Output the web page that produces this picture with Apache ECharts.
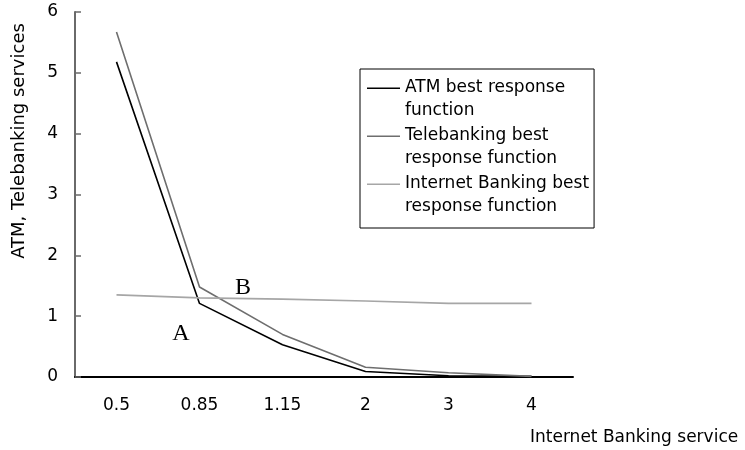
<!DOCTYPE html>
<html>
<head>
<meta charset="utf-8">
<script src="https://cdn.jsdelivr.net/npm/echarts@6/dist/echarts.min.js"></script>
<style>
  html, body { margin: 0; padding: 0; background: #fff; }
  #chart { width: 745px; height: 450px; }
</style>
</head>
<body>
<div id="chart"></div>
<script>
// Internet Banking service levels (x categories)
const categories = ["0.5", "0.85", "1.15", "2", "3", "4"];
// best response functions
const atmValues = [5.18, 1.21, 0.53, 0.09, 0.02, 0.01];
const teleValues = [5.67, 1.48, 0.7, 0.16, 0.07, 0.01];
const internetValues = [1.35, 1.3, 1.28, 1.25, 1.21, 1.21];
const seriesNames = [
  "ATM best response function",
  "Telebanking best response function",
  "Internet Banking best response function",
];
// how the legend breaks each name
const legendLines = {
  "ATM best response function": "ATM best response\nfunction",
  "Telebanking best response function": "Telebanking best\nresponse function",
  "Internet Banking best response function": "Internet Banking best\nresponse function",
};

const font = "DejaVu Sans";
const chart = echarts.init(document.getElementById("chart"));

function lineSeries(name, data, color) {
  return {
    name: name,
    type: "line",
    data: data,
    symbol: "none",
    color: color,
    lineStyle: { color: color, width: 1.6 },
    animation: false,
  };
}

chart.setOption({
  backgroundColor: "#fff",
  animation: false,
  grid: { left: 75, right: 172, top: 12, bottom: 73 },
  legend: {
    orient: "vertical",
    left: 360,
    top: 69,
    data: seriesNames,
    // line drawn at the top of a tall box so it sits level with the first text line
    icon: "path://M0 0 H33 V1.6 H0 Z M0 23 H33 V23 Z",
    itemWidth: 33,
    itemHeight: 23,
    itemGap: 2,
    padding: [7, 5, 10, 7],
    borderColor: "#000",
    borderWidth: 1,
    borderRadius: 0,
    formatter: (name) => legendLines[name],
    textStyle: { fontFamily: font, fontSize: 17, color: "#000", lineHeight: 23 },
    selectedMode: false,
  },
  xAxis: {
    type: "category",
    data: categories,
    boundaryGap: true,
    axisLine: { lineStyle: { color: "#000", width: 2 } },
    axisTick: { inside: true, length: 5, lineStyle: { color: "#000", width: 1.5 } },
    axisLabel: { fontFamily: font, fontSize: 17, color: "#000", margin: 20 },
    splitLine: { show: false },
  },
  yAxis: {
    type: "value",
    min: 0,
    max: 6,
    interval: 1,
    axisLine: { show: true, lineStyle: { color: "#6a6a6a", width: 2 } },
    axisTick: { show: true, inside: true, length: 6, lineStyle: { color: "#6a6a6a", width: 1.5 } },
    axisLabel: { fontFamily: font, fontSize: 17, color: "#000", margin: 17 },
    splitLine: { show: false },
  },
  graphic: [
    {
      type: "text",
      x: 19,
      y: 141,
      rotation: Math.PI / 2,
      style: {
        text: "ATM, Telebanking services",
        fontFamily: font,
        fontSize: 18,
        fill: "#000",
        align: "center",
        verticalAlign: "middle",
      },
    },
    {
      type: "text",
      x: 530,
      y: 438,
      style: {
        text: "Internet Banking service",
        fontFamily: font,
        fontSize: 17,
        fill: "#000",
        align: "left",
        verticalAlign: "middle",
      },
    },
    {
      type: "text",
      x: 181,
      y: 334,
      style: {
        text: "A",
        fontFamily: "Liberation Serif",
        fontSize: 24,
        fill: "#000",
        align: "center",
        verticalAlign: "middle",
      },
    },
    {
      type: "text",
      x: 243,
      y: 288,
      style: {
        text: "B",
        fontFamily: "Liberation Serif",
        fontSize: 24,
        fill: "#000",
        align: "center",
        verticalAlign: "middle",
      },
    },
  ],
  series: [
    lineSeries(seriesNames[0], atmValues, "#000000"),
    lineSeries(seriesNames[1], teleValues, "#6e6e6e"),
    lineSeries(seriesNames[2], internetValues, "#a6a6a6"),
  ],
});
</script>
</body>
</html>
